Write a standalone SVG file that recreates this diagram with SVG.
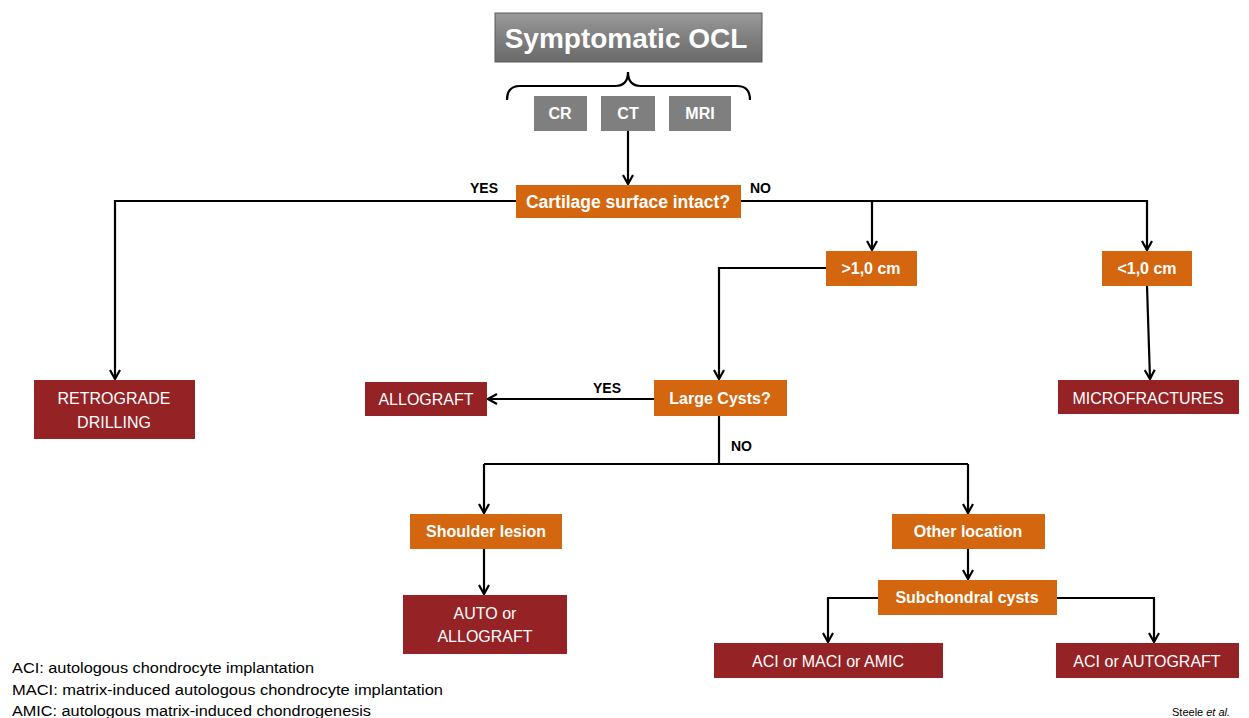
<svg xmlns="http://www.w3.org/2000/svg" width="1249" height="718" viewBox="0 0 1249 718">
<defs>
<linearGradient id="gray" x1="0" y1="0" x2="0" y2="1">
<stop offset="0" stop-color="#9a9a9a"/><stop offset="0.5" stop-color="#7f7f7f"/><stop offset="1" stop-color="#6a6a6a"/>
</linearGradient>
<marker id="ah" viewBox="0 0 12 12" refX="10" refY="6" markerWidth="12" markerHeight="12" markerUnits="userSpaceOnUse" orient="auto">
<path d="M1,1 L10,6 L1,11" fill="none" stroke="#000" stroke-width="2.2"/>
</marker>
</defs>
<style>
.t{font-family:"Liberation Sans",Arial,sans-serif;fill:#fff;text-anchor:middle}
.b{font-weight:bold}
.or{fill:#D3660E}
.rd{fill:#952224}
.gr{fill:#7f7f7f}
.ln{fill:none;stroke:#000;stroke-width:2.2}
.lb{font-family:"Liberation Sans",Arial,sans-serif;font-weight:bold;font-size:14px;fill:#000}
.fn{font-family:"Liberation Sans",Arial,sans-serif;font-size:15.5px;fill:#000}
.src{font-family:"Liberation Sans",Arial,sans-serif;font-size:11px;fill:#000}
</style>
<rect width="1249" height="718" fill="#fff"/>

<g id="connectors">
<path class="ln" d="M507,100 Q507,86 520,86 L615,86 Q628,86 628,72 Q628,86 641,86 L737,86 Q750,86 750,100" stroke-width="1.3"/>
<path class="ln" d="M628,131 V184" marker-end="url(#ah)"/>
<path class="ln" d="M516,201 H115 V379" marker-end="url(#ah)"/>
<path class="ln" d="M741,201 H1147 V250" marker-end="url(#ah)"/>
<path class="ln" d="M872,201 V250" marker-end="url(#ah)"/>
<path class="ln" d="M1147,286 L1150,379" marker-end="url(#ah)"/>
<path class="ln" d="M826,268 H719 V379" marker-end="url(#ah)"/>
<path class="ln" d="M654,399 H488" marker-end="url(#ah)"/>
<path class="ln" d="M719,416 V464 M484,464 H968"/>
<path class="ln" d="M484,464 V513" marker-end="url(#ah)"/>
<path class="ln" d="M968,464 V513" marker-end="url(#ah)"/>
<path class="ln" d="M484,549 V594" marker-end="url(#ah)"/>
<path class="ln" d="M968,549 V579" stroke-width="3.5" marker-end="url(#ah)"/>
<path class="ln" d="M878,598 H828 V642" marker-end="url(#ah)"/>
<path class="ln" d="M1057,598 H1154 V642" marker-end="url(#ah)"/>
<text class="lb" x="470" y="193">YES</text>
<text class="lb" x="750" y="193">NO</text>
<text class="lb" x="593" y="393">YES</text>
<text class="lb" x="731" y="451">NO</text>
</g>

<g id="n-symptomatic">
<rect x="495" y="13" width="267" height="49" fill="url(#gray)" stroke="#5a5a5a" stroke-width="1"/>
<text class="t b" x="626" y="48" font-size="28">Symptomatic OCL</text>
</g>
<g id="n-cr"><rect class="gr" x="534" y="96" width="53" height="35"/><text class="t b" x="560" y="119" font-size="16">CR</text></g>
<g id="n-ct"><rect class="gr" x="601" y="96" width="54" height="35"/><text class="t b" x="628" y="119" font-size="16">CT</text></g>
<g id="n-mri"><rect class="gr" x="669" y="96" width="62" height="35"/><text class="t b" x="700" y="119" font-size="16">MRI</text></g>

<g id="n-cartilage"><rect class="or" x="516" y="185" width="225" height="33"/><text class="t b" x="628" y="208" font-size="17.5">Cartilage surface intact?</text></g>
<g id="n-gt1"><rect class="or" x="826" y="251" width="91" height="35"/><text class="t b" x="871" y="274" font-size="16">&gt;1,0 cm</text></g>
<g id="n-lt1"><rect class="or" x="1102" y="251" width="90" height="35"/><text class="t b" x="1147" y="274" font-size="16">&lt;1,0 cm</text></g>
<g id="n-retro"><rect class="rd" x="34" y="380" width="161" height="59"/><text class="t" x="114" y="404" font-size="16">RETROGRADE</text><text class="t" x="114" y="428" font-size="16">DRILLING</text></g>
<g id="n-micro"><rect class="rd" x="1058" y="380" width="181" height="34"/><text class="t" x="1148" y="404" font-size="16">MICROFRACTURES</text></g>
<g id="n-large"><rect class="or" x="654" y="380" width="133" height="36"/><text class="t b" x="720" y="404" font-size="16">Large Cysts?</text></g>
<g id="n-allograft"><rect class="rd" x="365" y="382" width="122" height="34"/><text class="t" x="426" y="405" font-size="16">ALLOGRAFT</text></g>
<g id="n-shoulder"><rect class="or" x="410" y="514" width="152" height="35"/><text class="t b" x="486" y="537" font-size="16">Shoulder lesion</text></g>
<g id="n-other"><rect class="or" x="892" y="514" width="153" height="35"/><text class="t b" x="968" y="537" font-size="16">Other location</text></g>
<g id="n-auto"><rect class="rd" x="403" y="595" width="164" height="59"/><text class="t" x="485" y="619" font-size="16">AUTO or</text><text class="t" x="485" y="642" font-size="16">ALLOGRAFT</text></g>
<g id="n-subchondral"><rect class="or" x="878" y="580" width="179" height="35"/><text class="t b" x="967" y="603" font-size="16">Subchondral cysts</text></g>
<g id="n-aci-maci"><rect class="rd" x="714" y="643" width="229" height="35"/><text class="t" x="828" y="667" font-size="16">ACI or MACI or AMIC</text></g>
<g id="n-aci-auto"><rect class="rd" x="1056" y="643" width="183" height="35"/><text class="t" x="1147" y="667" font-size="16">ACI or AUTOGRAFT</text></g>

<g id="footnotes">
<text class="fn" x="12" y="673" textLength="302" lengthAdjust="spacingAndGlyphs">ACI: autologous chondrocyte implantation</text>
<text class="fn" x="12" y="695" textLength="431" lengthAdjust="spacingAndGlyphs">MACI: matrix-induced autologous chondrocyte implantation</text>
<text class="fn" x="12" y="716" textLength="359" lengthAdjust="spacingAndGlyphs">AMIC: autologous matrix-induced chondrogenesis</text>
<text class="src" x="1172" y="716">Steele <tspan font-style="italic">et al.</tspan></text>
</g>
</svg>
